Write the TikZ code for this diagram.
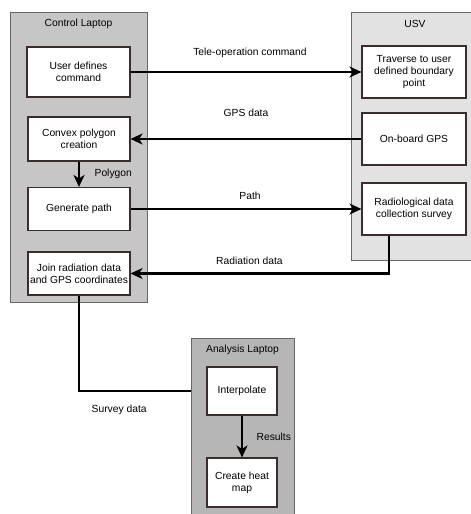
\documentclass[tikz,border=0pt]{standalone}
\usepackage{fontspec}
\setmainfont{Liberation Sans}
\usetikzlibrary{arrows.meta,positioning}

\definecolor{ctrlgray}{RGB}{198,198,198}
\definecolor{usvgray}{RGB}{226,226,226}
\definecolor{anagray}{RGB}{182,182,182}
\definecolor{boxline}{RGB}{60,45,45}

\tikzset{
	group/.style={draw=black!60, line width=0.9pt, inner sep=0pt},
	task/.style={draw=boxline, fill=white, line width=1.1pt, align=center, inner sep=2pt, font=\fontsize{10.3}{12}\selectfont},
	flow/.style={line width=2.6pt, -{Stealth[length=12pt,width=11pt,inset=3.5pt]}},
	link/.style={line width=2.6pt},
	lbl/.style={font=\fontsize{10.3}{12}\selectfont}
}

\begin{document}
\begin{tikzpicture}[x=1pt,y=-1pt]
		\useasboundingbox (0,0) rectangle (471,514);
		\clip (0,0) rectangle (471,514);

		% groups
		\draw (78.5,157) node[group, fill=ctrlgray, minimum width=137pt, minimum height=290pt] (ctrl) {};
		\draw (420.5,136) node[group, fill=usvgray, minimum width=139pt, minimum height=248pt] (usv) {};
		\draw (242.5,434) node[group, fill=anagray, minimum width=103pt, minimum height=192pt] (ana) {};
		\draw (78.5,24) node[lbl] (ctrltitle) {Control Laptop};
		\draw (415,24) node[lbl] (usvtitle) {USV};
		\draw (242.5,350) node[lbl] (anatitle) {Analysis Laptop};

		% tasks
		\draw (78.5,72) node[task, minimum width=103pt, minimum height=50pt] (cmd) {User defines\\command};
		\draw (79,139) node[task, minimum width=102pt, minimum height=44pt] (convex) {Convex polygon\\creation};
		\draw (79,209) node[task, minimum width=102pt, minimum height=43pt] (genpath) {Generate path};
		\draw (79,273.5) node[task, minimum width=102pt, minimum height=43pt] (join) {Join radiation data\\and GPS coordinates};
		\draw (414,72) node[task, minimum width=104pt, minimum height=52pt] (trav) {Traverse to user\\defined boundary\\point};
		\draw (414,139) node[task, minimum width=104pt, minimum height=52pt] (gps) {On-board GPS};
		\draw (414,209) node[task, minimum width=104pt, minimum height=52pt] (radio) {Radiological data\\collection survey};
		\draw (242,391) node[task, minimum width=70pt, minimum height=48pt] (interp) {Interpolate};
		\draw (242,482.5) node[task, minimum width=70pt, minimum height=49pt] (heat) {Create heat\\map};

		\path[flow]
			(cmd)     edge  node [lbl, above=10pt, xshift=4pt]  {Tele-operation command}  (trav)
			(gps)     edge  node [lbl, above=18pt]              {GPS data}                (convex)
			(convex)  edge  node [lbl, right=11pt]              {Polygon}                 (genpath)
			(genpath) edge  node [lbl, above=5pt, xshift=4pt]   {Path}                    (radio)
			(interp)  edge  node [lbl, right=10pt]              {Results}                 (heat);

		\draw[flow] ([xshift=-25pt]radio.south) |- node [lbl, pos=0.77, above=4pt] {Radiation data} (join.east);
		\draw[link] (join.south) |- node [lbl, pos=0.68, below=9pt] {Survey data} (interp.west -| ana.west);
\end{tikzpicture}
\end{document}
